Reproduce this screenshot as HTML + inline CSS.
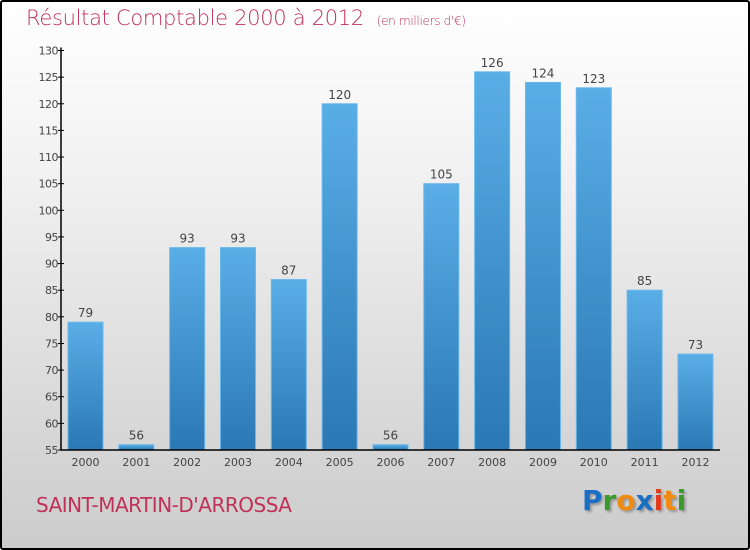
<!DOCTYPE html>
<html><head><meta charset="utf-8"><style>
html,body{margin:0;padding:0}
body{width:750px;height:550px;overflow:hidden;font-family:"DejaVu Sans","Liberation Sans",sans-serif}
#frame{position:absolute;left:0;top:0;width:746px;height:546px;border:2px solid #000;border-radius:3px;background:linear-gradient(#ffffff,#f2f2f2 30%,#d9d9d9 75%,#cccccc)}
#title{position:absolute;left:26px;top:6px;font-size:21px;color:#c0315a;font-weight:300;letter-spacing:-0.3px}
#title span{font-size:12px}
#city{position:absolute;left:36px;top:493px;font-size:20px;color:#c0315a;letter-spacing:-0.5px}
#logo{position:absolute;left:582px;top:484px;font-size:28px;font-weight:bold;font-family:"DejaVu Sans",sans-serif;text-shadow:2px 2px 2px #999}
</style></head><body>
<div id="frame"></div>
<div id="title">Résultat Comptable 2000 à 2012 &nbsp;<span>(en milliers d'€)</span></div>
<svg id="chart" width="750" height="550" style="position:absolute;left:0;top:0">
<defs><linearGradient id="bg" x1="0" y1="0" x2="0" y2="1"><stop offset="0" stop-color="#5aaee6"/><stop offset="1" stop-color="#2a78b4"/></linearGradient></defs>
<g id="bars"></g><g id="axes"></g>
</svg>
<div id="city">SAINT-MARTIN-D'ARROSSA</div>
<div id="logo"><span style="color:#1a6fc4">P</span><span style="color:#3a9a2a">r</span><span style="color:#f08a10">o</span><span style="color:#1a6fc4">x</span><span style="color:#e23a1a">i</span><span style="color:#f08a10">t</span><span style="color:#3a9a2a">i</span></div>
<script>
const years=["2000","2001","2002","2003","2004","2005","2006","2007","2008","2009","2010","2011","2012"];
const values=[79,56,93,93,87,120,56,105,126,124,123,85,73];
const yTicks=[55,60,65,70,75,80,85,90,95,100,105,110,115,120,125,130];
const NS="http://www.w3.org/2000/svg";
const yMin=55,yMax=130,y0=450,y1=50.5,xL=61,xR=720,bw=35,x0=68,step=50.83;
const yS=v=>y0-(v-yMin)*(y0-y1)/(yMax-yMin);
const xS=i=>x0+i*step;
function mk(t,a,p){const e=document.createElementNS(NS,t);for(const k in a)e.setAttribute(k,a[k]);p.appendChild(e);return e;}
const gb=document.getElementById('bars'),ga=document.getElementById('axes');
values.forEach((v,i)=>{
 const x=xS(i),y=yS(v);
 const r=mk('rect',{x:x,y:y,width:bw,height:y0-y,fill:'url(#bg)',stroke:'#6bb8ec','stroke-width':1},gb);
 
 
 const t=mk('text',{x:x+bw/2,y:y-5,'text-anchor':'middle','font-size':12,fill:'#444'},gb);
 t.textContent=v;
 
 
 const xl=mk('text',{x:x+bw/2,y:466,'text-anchor':'middle','font-size':11,fill:'#444'},ga);
 xl.textContent=years[i];
 
 
});
const ax=mk('path',{d:`M${xL},${y1-3}V${y0}H${xR}`,stroke:'#000','stroke-width':1.5,fill:'none'},ga);


yTicks.forEach(v=>{
 const y=yS(v);
 mk('line',{x1:xL-3,x2:xL+3,y1:y,y2:y,stroke:'#000'},ga);
 const t=mk('text',{x:xL-3,y:y+4,'text-anchor':'end','font-size':11,fill:'#444','letter-spacing':'-0.5'},ga);
 t.textContent=v;
 
 
});
</script>
</body></html>
